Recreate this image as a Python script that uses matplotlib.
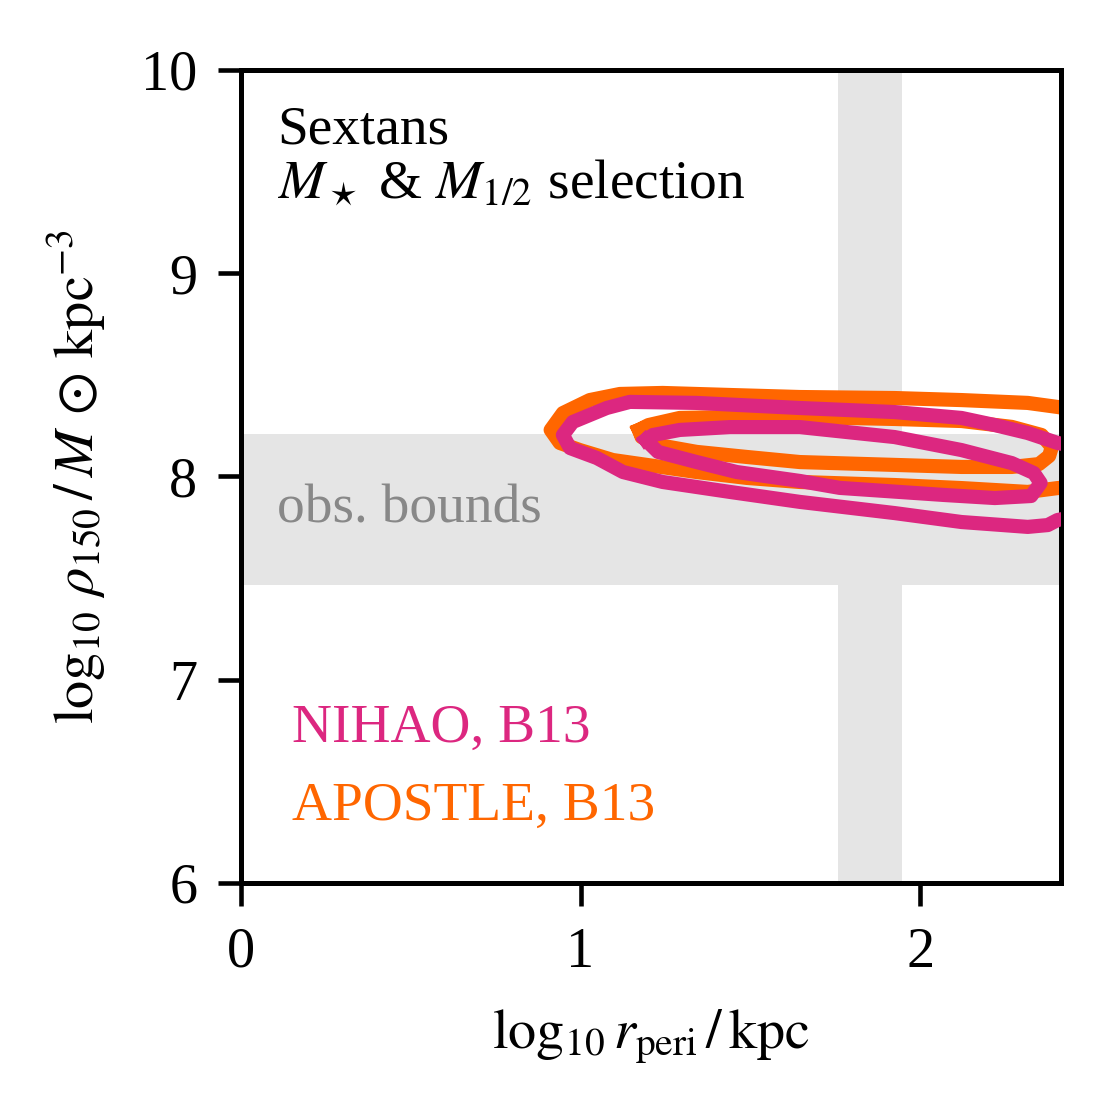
import numpy as np
import matplotlib
matplotlib.use("Agg")
import matplotlib.pyplot as plt

plt.rcParams['font.family'] = 'serif'
plt.rcParams['font.serif'] = ['Liberation Serif', 'DejaVu Serif']
plt.rcParams['mathtext.fontset'] = 'stix'

# observational bounds (log10 r_peri / kpc, log10 rho_150)
rperi_bounds = [1.757, 1.946]
rho_bounds = [7.466, 8.209]

# contour outlines (log10 r_peri, log10 rho_150)
apostle_outer_x = [2.45, 2.405, 2.317, 2.122, 1.925, 1.646, 1.440, 1.242, 1.116, 1.027, 0.948,
                   0.912, 0.939, 0.998, 1.095, 1.195, 1.342, 1.490, 1.646, 1.925, 2.122, 2.317,
                   2.405, 2.45]
apostle_outer_y = [8.33, 8.342, 8.362, 8.376, 8.386, 8.391, 8.401, 8.411, 8.406, 8.376, 8.312,
                   8.229, 8.165, 8.130, 8.081, 8.057, 8.022, 7.993, 7.973, 7.958, 7.943, 7.924,
                   7.943, 7.95]

apostle_inner_x = [1.172, 1.200, 1.292, 1.440, 1.646, 1.925, 2.122, 2.270, 2.358, 2.388, 2.380,
                   2.350, 2.270, 2.122, 1.925, 1.646, 1.490, 1.342, 1.228, 1.180, 1.172]
apostle_inner_y = [8.229, 8.253, 8.288, 8.293, 8.293, 8.283, 8.273, 8.244, 8.204, 8.145, 8.101,
                   8.061, 8.047, 8.047, 8.057, 8.071, 8.096, 8.121, 8.155, 8.194, 8.229]

nihao_outer_x = [2.45, 2.405, 2.317, 2.220, 2.122, 1.925, 1.646, 1.342, 1.145, 1.077, 0.977,
                 0.948, 0.969, 1.048, 1.125, 1.242, 1.440, 1.646, 1.925, 2.122, 2.317, 2.376,
                 2.405, 2.45]
nihao_outer_y = [8.15, 8.165, 8.214, 8.253, 8.288, 8.317, 8.337, 8.362, 8.367, 8.337, 8.268,
                 8.204, 8.140, 8.091, 8.022, 7.973, 7.924, 7.875, 7.820, 7.776, 7.752, 7.761,
                 7.786, 7.80]

nihao_inner_x = [1.192, 1.213, 1.292, 1.440, 1.646, 1.925, 2.122, 2.270, 2.335, 2.355, 2.327,
                 2.220, 2.071, 1.763, 1.646, 1.460, 1.342, 1.228, 1.192]
nihao_inner_y = [8.180, 8.204, 8.229, 8.243, 8.243, 8.194, 8.130, 8.066, 8.017, 7.968, 7.904,
                 7.894, 7.909, 7.944, 7.978, 8.022, 8.071, 8.121, 8.180]

nihao_col = '#dc2780'
apostle_col = '#ff6600'

fig = plt.figure(figsize=(1111 / 300, 1118 / 300), dpi=300)
ax = fig.add_axes([0.2169, 0.2102, 0.955 - 0.2169, 0.9374 - 0.2102])

ax.axvspan(rperi_bounds[0], rperi_bounds[1], color='#e5e5e5', lw=0, zorder=0)
ax.axhspan(rho_bounds[0], rho_bounds[1], color='#e5e5e5', lw=0, zorder=0)

lw = 3.4
ax.plot(apostle_outer_x, apostle_outer_y, color=apostle_col, lw=lw, solid_joinstyle='round', zorder=2)
ax.plot(apostle_inner_x, apostle_inner_y, color=apostle_col, lw=lw, solid_joinstyle='round', zorder=2)
ax.plot(nihao_outer_x, nihao_outer_y, color=nihao_col, lw=lw, solid_joinstyle='round', zorder=3)
ax.plot(nihao_inner_x, nihao_inner_y, color=nihao_col, lw=lw, solid_joinstyle='round', zorder=3)

ax.set_xlim(0, 2.415)
ax.set_ylim(6, 10)
ax.set_xticks([0, 1, 2])
ax.set_yticks([6, 7, 8, 9, 10])
ax.tick_params(direction='out', length=5.5, width=1.1, labelsize=13.5, pad=5)
for s in ax.spines.values():
    s.set_linewidth(1.2)

ax.set_xlabel(r'$\log_{10} r_{\rm peri}\,/\,\mathrm{kpc}$', fontsize=13.5, labelpad=7)
ax.set_ylabel(r'$\log_{10}\,\rho_{150}\,/\,M\,\odot\,\mathrm{kpc}^{-3}$', fontsize=13.5, labelpad=8)

ax.text(0.044, 0.957, 'Sextans\n' + r'$M_\star$ & $M_{1/2}$ selection', transform=ax.transAxes,
        ha='left', va='top', fontsize=13.3, linespacing=1.12)
ax.text(0.106, 7.776, 'obs. bounds', color='#888888', fontsize=13.3, ha='left', va='baseline')
ax.text(0.150, 6.694, 'NIHAO, B13', color=nihao_col, fontsize=13.3, ha='left', va='baseline')
ax.text(0.150, 6.310, 'APOSTLE, B13', color=apostle_col, fontsize=13.3, ha='left', va='baseline')

fig.savefig('out.png', dpi=300)
